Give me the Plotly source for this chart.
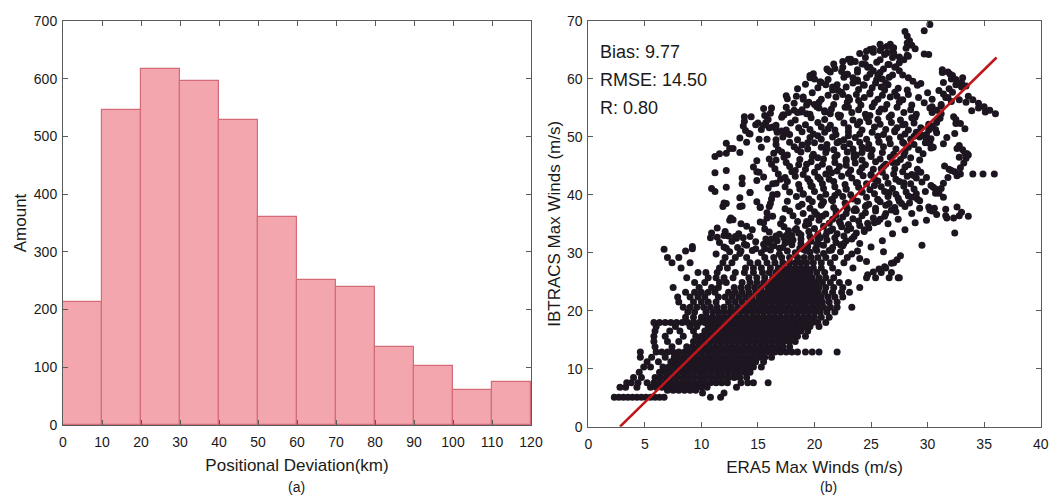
import plotly.graph_objects as go

# ---------------- Panel (a): histogram ----------------
bin_left = [0, 10, 20, 30, 40, 50, 60, 70, 80, 90, 100, 110]
bin_width = 10
amount = [213, 546, 616, 596, 529, 361, 252, 239, 136, 102, 60, 74]

# ---------------- Panel (b): scatter ----------------
# dense lower part, read row by row: (IBTrACS value, [ERA5 values])
scatter_rows = [
    (5.1, [2.3, 2.7, 3.1, 3.5, 3.9, 4.3, 4.7, 5.1, 5.5, 5.9, 6.3, 6.7, 10.8, 11.7]),
    (5.8, [10.1, 12.0]),
    (6.3, [7.0, 7.5, 8.0, 8.5, 9.0, 9.5]),
    (6.8, [2.8, 3.3, 4.3, 5.5, 6.0, 6.5, 7.0, 7.5, 8.0, 8.5, 9.0, 9.5, 10.0, 10.5, 13.1]),
    (7.6, [3.4, 3.8, 4.4, 5.2, 5.8, 6.3, 6.8, 7.3, 7.8, 8.3, 8.8, 9.3, 9.8, 10.3, 10.8, 11.3, 11.8, 12.3, 13.5, 14.1, 14.6, 15.9]),
    (8.5, [4.0, 4.7, 5.9, 6.4, 6.9, 7.4, 7.9, 8.4, 8.9, 9.4, 9.9, 10.4, 10.9, 11.4, 11.9, 12.4, 12.9, 13.4, 14.0]),
    (9.4, [4.5, 6.3, 6.8, 7.3, 7.8, 8.3, 8.8, 9.3, 9.8, 10.3, 10.8, 11.3, 11.8, 12.3, 12.8, 13.3, 13.8, 14.3]),
    (10.3, [4.9, 5.5, 6.6, 7.1, 7.6, 8.1, 8.6, 9.1, 9.6, 10.1, 10.6, 11.1, 11.6, 12.1, 12.6, 13.1, 13.6, 14.1, 14.6, 15.3]),
    (11.2, [5.2, 6.2, 7.3, 7.8, 8.3, 8.8, 9.3, 9.8, 10.3, 10.8, 11.3, 11.8, 12.3, 12.8, 13.3, 13.8, 14.3, 14.8, 15.5]),
    (12.0, [4.6, 5.6, 6.8, 7.6, 8.1, 8.6, 9.1, 9.6, 10.1, 10.6, 11.1, 11.6, 12.1, 12.6, 13.1, 13.6, 14.1, 14.6, 15.1, 15.6, 16.2]),
    (12.9, [4.6, 6.0, 6.5, 7.0, 7.5, 8.0, 8.5, 9.0, 9.5, 10.0, 10.5, 11.0, 11.5, 12.0, 12.5, 13.0, 13.5, 14.0, 14.5, 15.0, 15.5, 16.0, 16.5, 17.0, 17.5, 18.0, 18.5, 19.2, 19.8, 20.4, 22.0]),
    (13.8, [5.9, 7.4, 8.7, 9.2, 9.7, 10.2, 10.7, 11.2, 11.7, 12.2, 12.7, 13.2, 13.7, 14.2, 14.7, 15.2, 15.7, 16.2, 16.7, 17.2, 17.8]),
    (14.7, [5.8, 7.0, 8.0, 9.3, 9.8, 10.3, 10.8, 11.3, 11.8, 12.3, 12.8, 13.3, 13.8, 14.3, 14.8, 15.3, 15.8, 16.3, 16.8, 17.3, 17.8, 18.3]),
    (15.6, [5.8, 6.8, 8.4, 9.5, 10.0, 10.5, 11.0, 11.5, 12.0, 12.5, 13.0, 13.5, 14.0, 14.5, 15.0, 15.5, 16.0, 16.5, 17.0, 17.5, 18.0, 18.5, 19.2]),
    (16.5, [5.9, 7.2, 8.1, 9.3, 10.3, 10.8, 11.3, 11.8, 12.3, 12.8, 13.3, 13.8, 14.3, 14.8, 15.3, 15.8, 16.3, 16.8, 17.3, 17.8, 18.3, 18.8, 19.4]),
    (17.3, [6.0, 7.7, 9.0, 9.6, 10.6, 11.1, 11.6, 12.1, 12.6, 13.1, 13.6, 14.1, 14.6, 15.1, 15.6, 16.1, 16.6, 17.1, 17.6, 18.1, 18.6, 19.1, 19.6, 20.4]),
    (18.0, [5.8, 6.3, 6.8, 7.3, 7.8, 8.3, 8.8, 9.3, 9.8, 10.3, 10.8, 11.3, 11.8, 12.3, 12.8, 13.3, 13.8, 14.3, 14.8, 15.3, 15.8, 16.3, 16.8, 17.3, 17.8, 18.3, 18.8, 19.3, 19.8, 20.3, 21.0]),
    (18.9, [8.6, 9.3, 10.0, 10.5, 11.0, 11.5, 12.0, 12.5, 13.0, 13.5, 14.0, 14.5, 15.0, 15.5, 16.0, 16.5, 17.0, 17.5, 18.0, 18.5, 19.0, 19.5, 20.0, 20.6, 21.3]),
    (19.8, [8.8, 9.4, 10.4, 11.0, 11.5, 12.0, 12.5, 13.0, 13.5, 14.0, 14.5, 15.0, 15.5, 16.0, 16.5, 17.0, 17.5, 18.0, 18.5, 19.0, 19.5, 20.0, 20.5, 21.1, 21.8]),
    (20.6, [8.4, 9.0, 9.6, 10.2, 10.8, 11.4, 12.0, 12.6, 13.2, 13.8, 14.3, 14.8, 15.3, 15.8, 16.3, 16.8, 17.3, 17.8, 18.3, 18.8, 19.3, 19.8, 20.3, 20.8, 21.4, 22.0, 23.3]),
    (21.5, [8.0, 9.3, 10.0, 10.6, 11.3, 12.4, 13.0, 13.6, 14.2, 14.7, 15.2, 15.7, 16.2, 16.7, 17.2, 17.7, 18.2, 18.7, 19.2, 19.7, 20.2, 20.7, 21.3, 22.0]),
    (22.4, [7.9, 9.0, 9.7, 10.3, 11.5, 12.1, 12.7, 13.3, 13.9, 14.5, 15.1, 15.6, 16.1, 16.6, 17.1, 17.6, 18.1, 18.6, 19.1, 19.6, 20.1, 20.6, 21.2, 21.8, 22.5]),
    (23.2, [8.6, 9.4, 10.0, 10.6, 11.2, 12.4, 13.0, 13.6, 14.2, 14.8, 15.3, 15.8, 16.3, 16.8, 17.3, 17.8, 18.3, 18.8, 19.3, 19.8, 20.3, 20.9, 21.6, 22.4, 23.1]),
    (24.0, [7.5, 9.8, 10.9, 11.5, 12.9, 13.5, 14.1, 14.7, 15.3, 15.9, 16.4, 16.9, 17.4, 17.9, 18.4, 18.9, 19.4, 19.9, 20.4, 21.0, 21.7, 22.5, 24.0]),
    (24.9, [9.4, 10.3, 11.6, 12.2, 13.6, 14.3, 14.9, 15.5, 16.1, 16.6, 17.1, 17.6, 18.1, 18.6, 19.1, 19.6, 20.1, 20.7, 21.4, 22.2, 23.0]),
    (25.7, [8.7, 10.6, 11.3, 12.0, 12.8, 14.2, 14.9, 15.6, 16.3, 16.8, 17.3, 17.8, 18.3, 18.8, 19.3, 19.8, 20.4, 21.0, 21.7, 24.6, 25.4, 27.4]),
    (26.6, [9.7, 10.4, 11.4, 13.0, 13.8, 14.6, 15.4, 16.0, 16.6, 17.1, 17.6, 18.1, 18.6, 19.1, 19.6, 20.2, 20.9, 22.1, 25.9, 26.8]),
    (27.4, [8.2, 11.6, 12.3, 13.9, 14.6, 15.3, 16.1, 16.8, 17.3, 17.8, 18.3, 18.8, 19.3, 19.9, 20.6, 21.6, 23.4, 26.3]),
    (28.3, [7.4, 9.0, 11.9, 12.7, 14.3, 15.0, 15.8, 16.5, 17.2, 17.8, 18.3, 18.8, 19.3, 19.9, 20.6, 21.4, 22.6, 27.0]),
    (29.2, [7.0, 8.0, 12.1, 13.0, 14.0, 15.6, 16.4, 17.1, 17.8, 18.5, 19.1, 19.7, 20.3, 21.0, 21.8, 22.9]),
]

# upper cloud, general spread: (ERA5, IBTrACS)
upper_spread = [
    (11.3, 29.8), (12.5, 30.2), (13.4, 29.9), (14.5, 30.4), (15.3, 30.0), (16.1, 30.5), (16.9, 29.8),
    (17.6, 30.3), (18.3, 30.0), (19.0, 30.6), (19.6, 30.1), (20.2, 30.4), (20.8, 29.9), (21.5, 30.5), (22.3, 30.2), (23.3, 29.8),
    (12.0, 31.0), (13.2, 30.9), (14.0, 31.3), (15.6, 30.7), (16.4, 31.2), (17.2, 30.9), (18.0, 31.4), (18.7, 30.8), (19.4, 31.1),
    (20.1, 30.7), (20.8, 31.3), (21.6, 30.9), (22.5, 31.2),
    (11.6, 31.8), (12.7, 32.0), (13.8, 31.5), (14.8, 31.9), (16.0, 31.6), (16.7, 32.1), (17.4, 31.7), (18.1, 32.2), (18.8, 31.6), (19.7, 32.0),
    (20.4, 31.5), (21.1, 32.2), (21.9, 31.8), (22.8, 32.1), (24.0, 31.6),
    (10.8, 32.6), (12.4, 32.9), (13.1, 32.5), (14.3, 32.8), (15.7, 32.4), (16.6, 32.9), (17.3, 32.6), (18.0, 33.0), (18.8, 32.4), (19.6, 32.8),
    (20.3, 32.5), (21.0, 33.0), (21.8, 32.6), (22.6, 32.9), (23.3, 32.4),
    (12.1, 33.7), (13.3, 33.3), (16.0, 33.6), (16.9, 33.2), (17.7, 33.8), (18.6, 33.4), (19.5, 33.7), (20.3, 33.2), (21.1, 33.6),
    (22.0, 33.3), (22.9, 33.9), (23.7, 33.4), (24.4, 33.7),
    (11.4, 34.3), (14.0, 34.6), (15.6, 34.1), (17.3, 34.5), (18.3, 34.0), (19.2, 34.7), (20.0, 34.2), (20.8, 34.6), (21.6, 34.1), (22.4, 34.5),
    (23.2, 34.2), (24.0, 34.7), (24.8, 34.3),
    (13.5, 35.0), (15.2, 35.3), (17.0, 35.0), (18.5, 35.4), (19.5, 35.0), (20.4, 35.6), (21.3, 35.1), (22.2, 35.4), (23.0, 34.9),
    (23.9, 35.5), (24.7, 35.1), (25.6, 35.4), (26.5, 35.0),
    (12.6, 36.0), (16.3, 36.3), (17.2, 35.9), (18.1, 36.4), (19.7, 36.0), (20.7, 36.3), (21.6, 35.8), (22.5, 36.2), (23.4, 35.9), (24.2, 36.4),
    (25.2, 36.0), (26.2, 36.3), (27.4, 35.8), (31.7, 36.0),
    (15.8, 36.9), (17.8, 37.2), (19.0, 36.8), (20.0, 37.1), (21.0, 36.7), (21.9, 37.2), (22.8, 36.8), (23.7, 37.3), (24.5, 36.9), (25.4, 37.2),
    (26.3, 36.8), (27.2, 37.1), (28.6, 36.8), (30.2, 37.4), (33.0, 37.0),
    (13.6, 38.1), (15.2, 37.8), (17.4, 37.6), (18.6, 38.0), (19.6, 37.7), (20.6, 38.2), (21.7, 37.8), (22.8, 38.1), (23.6, 37.6),
    (24.5, 38.0), (25.4, 37.7), (26.3, 38.2), (27.1, 37.8), (28.0, 38.0), (30.6, 37.7), (31.6, 37.5), (32.6, 37.9),
    (12.0, 38.6), (14.9, 38.8), (16.1, 38.5), (17.6, 38.9), (18.9, 38.4), (19.8, 38.8), (20.7, 38.5), (21.6, 39.0), (22.7, 38.6), (23.8, 38.9),
    (24.8, 38.4), (25.8, 38.8), (26.6, 38.5), (27.5, 38.9), (28.4, 38.6), (29.3, 39.0),
    (13.4, 39.5), (16.2, 39.3), (18.4, 39.7), (19.5, 39.3), (20.5, 39.6), (21.5, 39.2), (22.5, 39.7), (23.4, 39.3), (24.6, 39.6), (25.6, 39.2),
    (26.5, 39.7), (27.4, 39.4), (28.3, 39.8), (29.1, 39.3),
    (11.2, 40.6), (14.3, 40.4), (16.7, 40.1), (17.8, 40.5), (19.0, 40.2), (20.0, 40.6), (21.0, 40.1), (22.1, 40.4), (23.2, 40.0), (24.2, 40.5),
    (25.3, 40.2), (26.2, 40.6), (27.2, 40.1), (28.1, 40.5), (29.0, 40.2), (29.8, 40.6), (30.7, 40.3),
    (15.9, 41.2), (17.4, 41.4), (18.7, 41.0), (19.8, 41.5), (20.8, 41.1), (21.8, 41.4), (22.8, 41.0),
    (23.9, 41.3), (24.9, 40.9), (25.9, 41.4), (26.9, 41.1), (27.9, 41.5), (28.8, 41.0), (30.5, 41.3), (31.2, 41.1),
    (16.3, 41.9), (17.6, 42.3), (18.6, 41.8), (19.6, 42.2), (20.7, 41.9), (21.7, 42.3), (22.7, 41.8), (23.7, 42.1), (24.6, 41.9),
    (25.6, 42.4), (26.5, 42.0), (27.5, 42.3), (28.5, 41.9), (29.5, 42.2), (31.4, 42.0),
    (13.6, 42.9), (15.5, 43.1), (17.0, 42.7), (18.3, 43.2), (19.4, 42.8), (20.3, 43.1), (21.3, 42.7), (22.4, 43.2), (23.3, 42.9), (24.3, 43.3),
    (25.3, 42.8), (26.3, 43.1), (27.2, 42.7), (28.2, 43.2), (29.0, 42.9), (31.8, 43.0), (32.6, 43.3),
    (15.1, 43.9), (16.8, 43.6), (18.0, 44.0), (19.0, 43.5), (20.0, 43.9), (21.0, 43.6), (22.0, 44.1), (23.0, 43.7), (24.0, 44.0),
    (25.0, 43.5), (26.0, 43.9), (27.0, 43.6), (27.8, 44.0), (28.6, 43.5), (29.4, 43.9), (32.1, 44.2),
    (14.6, 44.8), (16.5, 44.5), (17.8, 44.9), (19.2, 44.4), (20.3, 44.8), (21.3, 44.5), (22.2, 44.9), (23.2, 44.3), (24.2, 44.7),
    (25.2, 44.4), (26.1, 44.9), (27.1, 44.5), (28.0, 44.8), (29.1, 44.4), (32.9, 44.7),
    (16.2, 45.3), (17.5, 45.6), (18.6, 45.2), (19.7, 45.7), (20.7, 45.3), (21.8, 45.6), (22.8, 45.1), (23.6, 45.5), (24.5, 45.2),
    (25.4, 45.7), (26.3, 45.3), (27.3, 45.6), (28.3, 45.2), (33.2, 45.5),
    (11.2, 46.6), (16.0, 46.2), (17.3, 46.5), (18.7, 46.1), (19.8, 46.6), (20.8, 46.2), (21.8, 46.5), (22.8, 46.1), (23.5, 46.4), (24.2, 46.0),
    (25.0, 46.6), (25.8, 46.2), (26.7, 46.5), (27.6, 46.1), (28.5, 46.4), (29.3, 46.0), (32.8, 46.5), (33.6, 46.9),
    (16.4, 47.2), (17.6, 46.9), (18.8, 47.4), (19.9, 47.0), (21.0, 47.3), (22.0, 46.9), (22.9, 47.4),
    (23.5, 47.0), (24.2, 47.3), (25.0, 46.9), (26.0, 47.3), (27.0, 47.0), (28.0, 47.4), (29.6, 47.1), (33.3, 47.2),
    (12.8, 48.0), (15.3, 48.2), (16.8, 47.8), (18.2, 48.3), (19.4, 47.9), (20.6, 48.2), (21.7, 47.8), (22.6, 48.3), (23.4, 47.9), (24.2, 48.2),
    (25.1, 47.8), (26.1, 48.3), (27.2, 47.9), (28.3, 48.2), (29.2, 47.8), (30.3, 48.1), (32.6, 48.0),
    (14.0, 49.1), (16.6, 48.7), (17.8, 49.1), (18.9, 48.6), (20.0, 49.0), (21.1, 48.7), (22.2, 49.2), (23.1, 48.8), (24.0, 49.1),
    (24.8, 48.7), (25.7, 49.2), (26.7, 48.8), (27.8, 49.1), (28.8, 48.7), (29.8, 49.0), (31.4, 48.8),
    (13.4, 49.8), (15.8, 49.6), (17.2, 50.0), (18.5, 49.5), (19.6, 49.9), (20.6, 49.6), (21.6, 50.0), (22.6, 49.5), (23.6, 49.9), (24.6, 49.6),
    (25.6, 50.1), (26.6, 49.7), (27.6, 50.0), (28.5, 49.6), (29.3, 50.0), (30.3, 49.7), (31.7, 49.9),
    (14.2, 50.6), (16.7, 50.8), (17.8, 50.4), (18.9, 50.9), (19.9, 50.5), (20.9, 50.8), (21.9, 50.4), (23.0, 50.9), (24.0, 50.5), (25.1, 50.8),
    (26.1, 50.4), (27.1, 50.9), (28.0, 50.5), (29.0, 50.8), (29.9, 50.4), (30.8, 50.7), (32.4, 50.6),
    (15.3, 51.3), (16.3, 51.7), (17.5, 51.2), (18.6, 51.6), (19.6, 51.3), (20.6, 51.7), (21.8, 51.2), (23.0, 51.6), (24.2, 51.2),
    (25.3, 51.7), (26.3, 51.3), (27.3, 51.6), (28.3, 51.2), (29.4, 51.6), (30.7, 51.3),
    (14.8, 52.1), (15.7, 52.5), (16.6, 52.0), (17.9, 52.4), (19.2, 52.1), (20.3, 52.5), (21.4, 52.0), (22.6, 52.4), (23.8, 52.1),
    (24.8, 52.6), (25.8, 52.2), (26.8, 52.5), (27.8, 52.1), (28.8, 52.4), (30.1, 52.2), (32.5, 52.3),
    (14.4, 53.5), (15.9, 53.0), (17.1, 53.4), (18.3, 52.9), (19.7, 53.3), (20.9, 53.0), (22.2, 53.4), (23.4, 52.9), (24.6, 53.3),
    (25.6, 53.0), (26.6, 53.4), (27.6, 52.9), (28.6, 53.3), (30.9, 53.1), (32.3, 53.5),
    (16.1, 54.1), (17.3, 53.8), (18.5, 54.2), (19.6, 53.9), (20.9, 54.3), (22.1, 53.8), (23.3, 54.2), (24.5, 53.9), (25.7, 54.3), (26.8, 53.8),
    (27.9, 54.2), (29.0, 53.9), (30.4, 54.2), (33.9, 54.5), (35.1, 54.3),
    (15.5, 54.9), (17.5, 55.1), (18.9, 54.7), (20.2, 55.2), (21.5, 54.8), (22.7, 55.1), (23.9, 54.7), (25.1, 55.2), (26.2, 54.8), (27.3, 55.1),
    (28.5, 54.7), (30.2, 55.0), (31.2, 55.3), (34.5, 55.0),
    (18.2, 55.8), (19.3, 55.5), (20.4, 56.0), (21.7, 55.6), (22.9, 56.0), (24.1, 55.5), (25.3, 55.9), (26.4, 55.6), (27.5, 56.0), (28.6, 55.5),
    (29.7, 55.9), (31.2, 55.6), (33.4, 56.0),
    (17.6, 56.6), (19.0, 56.9), (20.6, 56.5), (21.9, 56.9), (23.1, 56.4), (24.4, 56.8), (25.6, 56.5), (26.7, 56.9), (27.8, 56.4), (29.2, 56.8),
    (30.4, 56.5), (31.6, 56.8), (32.8, 56.4),
    (19.8, 57.6), (21.2, 57.2), (22.4, 57.7), (23.7, 57.3), (24.9, 57.6), (26.0, 57.2), (27.1, 57.7), (28.3, 57.3), (30.0, 57.6),
    (32.2, 57.7),
    (18.5, 58.3), (20.3, 58.5), (21.6, 58.1), (22.8, 58.6), (23.9, 58.2), (25.1, 58.5), (26.2, 58.1), (27.4, 58.4), (31.9, 58.3), (33.0, 58.6),
    (19.2, 59.1), (20.6, 59.4), (22.0, 59.0), (23.4, 59.3), (24.4, 58.9), (25.4, 59.3), (26.5, 59.0), (31.4, 59.4), (32.5, 59.0),
    (19.6, 60.2), (21.2, 59.9), (22.6, 60.3), (23.8, 59.8), (24.6, 60.2), (25.5, 59.9), (26.6, 60.3), (32.1, 60.0), (33.1, 60.2),
    (19.9, 60.9), (21.4, 61.2), (22.9, 60.8), (23.8, 61.2), (24.9, 60.8), (25.8, 61.1), (26.9, 60.7), (31.3, 61.1), (32.0, 60.8),
    (21.1, 61.7), (22.5, 62.0), (23.8, 61.6), (24.9, 62.0), (26.1, 61.7), (27.2, 62.1),
    (21.7, 62.6), (23.2, 62.9), (24.5, 62.5), (25.5, 62.9), (26.5, 62.5), (27.5, 62.8),
    (23.2, 63.4), (24.5, 63.7), (25.8, 63.3), (26.9, 63.7), (27.9, 63.3), (28.3, 63.9),
    (25.2, 64.6), (26.2, 64.2), (27.0, 64.5), (28.2, 64.1),
    (24.9, 65.1), (25.9, 65.4), (26.9, 65.0), (28.1, 65.3), (26.7, 66.0), (28.2, 66.2),
]

# upper cloud, storm-track chains and isolated points: (ERA5, IBTrACS)
upper_chains = [
    (10.9, 41.1), (11.2, 43.8), (11.6, 47.1), (12.2, 47.2), (12.5, 48.0), (12.2, 48.9), (13.4, 47.3), (12.2, 38.5),
    (12.5, 35.6), (12.8, 35.7), (10.9, 33.4), (11.4, 32.7), (12.0, 33.0), (13.0, 32.8), (13.7, 32.6), (12.2, 41.3),
    (12.2, 44.2), (13.6, 41.9), (14.9, 42.5), (14.9, 44.0), (14.9, 45.9), (15.2, 37.9), (15.8, 36.0), (16.0, 38.0),
    (16.3, 40.0), (16.6, 42.0), (11.9, 38.0), (13.4, 38.0), (14.3, 40.4), (15.1, 49.6), (15.6, 53.7), (17.5, 57.1),
    (16.2, 55.0), (14.8, 30.7), (15.5, 31.5), (16.2, 32.4), (13.5, 30.3), (12.2, 30.8), (6.7, 30.6),
    (8.6, 30.3), (9.2, 30.7), (9.2, 31.1),
    (13.8, 53.5), (13.8, 52.7), (13.7, 51.9), (13.9, 51.1), (14.3, 50.5),
    (15.0, 52.4), (15.5, 52.0), (16.0, 51.6), (16.6, 51.4), (17.1, 51.0), (17.6, 50.6),
    (17.2, 53.8), (17.7, 54.2), (18.2, 54.6), (18.8, 54.3), (19.3, 54.0),
    (18.4, 57.0), (19.0, 56.5), (19.5, 56.0), (20.0, 55.6), (20.4, 55.0), (20.9, 54.5), (21.4, 54.0),
    (19.6, 60.6), (20.0, 60.0), (20.5, 59.5), (21.0, 59.0), (21.6, 58.6), (22.1, 58.0), (22.5, 57.3), (23.0, 56.8),
    (21.2, 61.5), (21.8, 61.8), (22.4, 61.3), (22.9, 60.8), (23.4, 60.2), (23.8, 59.6), (24.3, 59.0),
    (22.5, 63.0), (23.0, 63.4), (23.6, 63.0), (24.2, 62.6), (24.7, 62.0), (25.2, 61.4), (25.6, 60.7), (26.0, 60.0), (26.3, 59.3),
    (24.0, 64.4), (24.6, 64.8), (25.2, 65.2), (25.8, 64.9), (26.4, 64.5), (27.0, 64.2), (27.5, 63.8),
    (25.8, 66.0), (26.4, 65.6), (27.0, 65.4),
    (28.0, 68.2), (28.2, 67.4), (28.4, 66.6), (28.6, 65.8), (28.9, 65.2),
    (29.7, 68.3), (30.2, 69.4), (29.7, 64.3), (30.1, 64.2),
    (26.6, 62.5), (27.1, 62.0), (27.5, 61.4), (27.8, 60.7), (28.3, 60.2), (28.7, 59.6), (29.1, 58.9), (29.4, 59.2),
    (31.3, 61.6), (31.8, 61.2), (32.2, 60.6), (32.5, 59.9), (33.0, 59.4), (33.4, 58.8),
    (31.0, 58.0), (31.4, 57.4), (31.8, 56.8), (32.1, 56.1),
    (33.6, 57.0), (34.0, 56.4), (34.5, 55.8), (35.0, 55.2), (35.5, 54.6), (36.0, 54.0),
    (32.5, 53.0), (32.9, 52.3), (33.3, 51.4),
    (30.4, 55.2), (30.8, 54.6), (31.2, 54.0), (31.1, 53.2), (30.8, 52.5), (30.4, 51.9), (30.1, 51.2),
    (29.5, 50.3), (29.9, 49.6), (30.2, 48.9), (30.5, 48.2),
    (32.8, 48.5), (33.1, 47.8), (33.5, 47.1), (33.4, 46.3),
    (31.5, 45.0), (31.9, 44.4), (32.4, 44.0), (32.9, 43.6),
    (34.0, 43.6), (34.9, 43.6), (35.9, 43.6),
    (30.3, 41.6), (30.7, 41.0), (31.0, 40.3), (31.4, 39.6),
    (30.1, 37.9), (30.4, 37.2), (30.8, 36.6), (31.6, 36.4), (32.3, 36.0), (32.8, 36.4), (33.6, 36.3),
    (29.9, 35.6), (32.4, 33.4), (29.5, 31.3),
    (27.6, 29.5), (27.3, 28.8), (26.8, 28.2), (26.2, 27.6), (25.7, 27.2), (25.2, 26.7), (24.7, 26.2),
    (26.6, 25.7), (27.5, 25.7),
    (17.5, 33.0), (18.4, 34.2), (19.3, 35.4), (20.2, 36.6),
    (20.5, 32.6), (21.4, 33.8), (22.3, 35.0),
    (22.6, 31.6), (23.5, 32.8), (24.4, 34.0), (25.3, 35.2), (25.8, 35.8),
    (23.5, 37.3), (24.6, 38.2), (25.6, 39.2), (26.6, 40.4),
    (26.8, 37.4), (27.7, 38.5), (28.6, 39.6),
    (20.8, 38.8), (21.8, 39.9), (22.8, 41.0), (23.8, 42.1),
    (19.0, 40.1), (19.7, 41.5), (20.5, 42.7), (21.5, 43.8),
    (17.4, 43.0), (18.3, 44.2), (19.3, 45.3), (20.3, 46.4),
    (25.0, 43.4), (25.9, 44.5), (26.9, 45.6), (27.9, 46.8),
    (27.9, 42.1), (28.8, 43.3), (29.2, 44.0),
    (22.8, 45.8), (23.7, 46.9), (24.7, 48.0), (25.7, 49.1),
    (21.1, 47.9), (22.0, 49.0), (23.0, 50.2),
    (18.5, 47.8), (19.4, 49.0), (20.3, 50.2), (21.2, 51.4),
    (16.6, 46.0), (17.1, 47.4), (16.6, 49.5),
    (24.0, 52.6), (24.9, 53.7), (25.9, 54.8),
    (27.1, 51.1), (28.0, 52.2), (28.9, 53.4),
    (27.9, 48.9), (28.8, 50.1),
    (22.3, 53.7), (23.0, 55.1), (23.9, 56.3), (24.9, 57.4), (25.9, 58.6),
    (27.3, 57.0), (28.2, 58.1),
    (24.2, 40.5), (25.3, 41.6), (14.5, 34.0), (15.5, 35.2),
    (16.9, 30.8), (17.8, 32.0), (18.8, 33.1), (19.2, 30.4), (20.2, 31.5),
    (21.3, 30.4), (22.3, 31.4), (23.8, 30.3),
    (21.9, 36.5), (22.9, 37.6),
    (25.0, 31.0), (26.0, 32.1), (26.9, 33.3),
    (28.0, 34.0), (28.9, 35.2), (26.1, 30.2), (24.0, 29.0), (24.6, 28.5),
    (29.3, 37.7), (29.9, 43.0),
]

# Regression line end points
fit_x = [2.8, 36.1]
fit_y = [0.0, 63.7]

stats_text = ["Bias: 9.77", "RMSE: 14.50", "R: 0.80"]

upper = upper_spread + upper_chains
era5 = [x for y, xs in scatter_rows for x in xs] + [p[0] for p in upper]
ibtracs = [y for y, xs in scatter_rows for x in xs] + [p[1] for p in upper]

FONT = "Liberation Sans, Arial, sans-serif"
TXT = "#1a1a1a"
AX = "#5a5a5a"

W, H = 1051, 495

def px_x(p):
    return p / W

def px_y(p):
    return (H - p) / H

fig = go.Figure()

fig.add_trace(go.Bar(
    x=[b + bin_width / 2 for b in bin_left], y=amount, width=bin_width,
    marker=dict(color="#F3A6AD", line=dict(color="#D46C77", width=1.2)),
    xaxis="x", yaxis="y", showlegend=False,
))

fig.add_trace(go.Scatter(
    x=era5, y=ibtracs, mode="markers",
    marker=dict(color="#1d1620", size=7, line=dict(width=0)),
    xaxis="x2", yaxis="y2", showlegend=False,
))

fig.add_trace(go.Scatter(
    x=fit_x, y=fit_y, mode="lines",
    line=dict(color="#C0161B", width=2.5),
    xaxis="x2", yaxis="y2", showlegend=False,
))

axis_common = dict(
    showgrid=False, zeroline=False, showline=True, linecolor=AX, linewidth=1,
    mirror="ticks", ticks="inside", ticklen=5, tickcolor=AX, automargin=False,
    tickfont=dict(family=FONT, size=14, color=TXT),
)
title_font = dict(family=FONT, size=17, color=TXT)

fig.update_layout(
    width=W, height=H,
    autosize=False,
    margin=dict(l=0, r=0, t=0, b=0, pad=0),
    paper_bgcolor="white", plot_bgcolor="white",
    bargap=0,
    xaxis=dict(domain=[px_x(63), px_x(531)], range=[0, 120], dtick=10, anchor="y", ticklabelstandoff=4,
               title=dict(text="Positional Deviation(km)", font=title_font, standoff=10),
               **axis_common),
    yaxis=dict(domain=[px_y(425), px_y(21)], range=[0, 700], dtick=100, anchor="x", ticklabelstandoff=2,
               title=dict(text="Amount", font=title_font, standoff=2),
               **axis_common),
    xaxis2=dict(domain=[px_x(588.3), px_x(1040.7)], range=[0, 40], dtick=5, anchor="y2", ticklabelstandoff=4,
                title=dict(text="ERA5 Max Winds (m/s)", font=title_font, standoff=10),
                **axis_common),
    yaxis2=dict(domain=[px_y(426.7), px_y(21)], range=[0, 70], dtick=10, anchor="x2", ticklabelstandoff=2,
                title=dict(text="IBTRACS Max Winds (m/s)", font=title_font, standoff=1),
                **axis_common),
)

for i, t in enumerate(stats_text):
    fig.add_annotation(text=t, xref="x2 domain", yref="y2 domain", x=0.021, y=0.924 - i * 0.069,
                       xanchor="left", yanchor="middle", showarrow=False,
                       font=dict(family=FONT, size=18, color=TXT))

for lbl, cx in [("(a)", 296), ("(b)", 828)]:
    fig.add_annotation(text=lbl, xref="paper", yref="paper", x=px_x(cx), y=px_y(487),
                       xanchor="center", yanchor="middle", showarrow=False,
                       font=dict(family=FONT, size=14, color=TXT))

# remove the default page margin so the 1051 x 495 figure fills the window exactly
fig.write_html("out.html",
               config={"displayModeBar": False},
               post_script="document.body.style.margin='0';document.body.style.overflow='hidden';")
